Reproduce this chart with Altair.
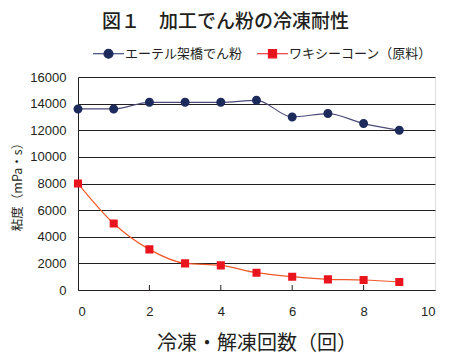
import altair as alt
import pandas as pd

cycles = [0, 1, 2, 3, 4, 5, 6, 7, 8, 9]
ether = [13600, 13600, 14100, 14100, 14100, 14250, 13000, 13250, 12500, 12000]
waxy = [8000, 5000, 3050, 2000, 1850, 1300, 1000, 800, 750, 600]
series_names = ["エーテル架橋でん粉", "ワキシーコーン（原料）"]
line_colors = ["#4b4a78", "#f05a2a"]
marker_colors = ["#1c2a5c", "#e8141e"]
x_ticks = [0, 2, 4, 6, 8, 10]
inner_ticks = [2, 4, 6, 8]
y_ticks = [0, 2000, 4000, 6000, 8000, 10000, 12000, 14000, 16000]

# marker paths: a horizontal segment (only visible when stroked, i.e. in legend) + filled marker
circle_path = "M-1,0H1M-0.29,0A0.29,0.29 0 1,0 0.29,0A0.29,0.29 0 1,0 -0.29,0Z"
square_path = "M-1,0H1M-0.26,-0.26H0.26V0.26H-0.26Z"
marker_shapes = [circle_path, square_path]

df = pd.DataFrame({
    "x": cycles + cycles,
    "y": ether + waxy,
    "series": [series_names[0]] * len(cycles) + [series_names[1]] * len(cycles),
})
ticks_df = pd.DataFrame({"x": inner_ticks})

FONT_CJK = "Noto Sans CJK JP"
FONT_NUM = "Liberation Sans"
W, H = 357, 213

xscale = alt.Scale(domain=[0, 10], nice=False)
yscale = alt.Scale(domain=[0, 16000], nice=False)

xaxis = alt.Axis(
    values=x_ticks, grid=False, tickSize=0, labelPadding=15, format="d",
    labelFont=FONT_NUM, labelFontSize=13, labelColor="#231f20",
    domainColor="#231f20", title="冷凍・解凍回数（回）", titleFont=FONT_CJK,
    titleFontSize=20, titleFontWeight="normal", titleColor="#231f20", titlePadding=15)
yaxis = alt.Axis(
    values=y_ticks, grid=True, gridColor="#231f20", gridOpacity=1, gridWidth=1,
    tickSize=0, labelPadding=12, format="d", labelFont=FONT_NUM, labelFontSize=13,
    labelColor="#231f20", domainColor="#231f20", title="粘度（mPa・s）",
    titleFont=FONT_CJK, titleFontSize=12.5, titleFontWeight="normal",
    titleColor="#231f20", titlePadding=5)

xenc = alt.X("x:Q", scale=xscale, axis=xaxis)
yenc = alt.Y("y:Q", scale=yscale, axis=yaxis)

line_layers = [
    alt.Chart(df).transform_filter(alt.datum.series == name).mark_line(
        interpolate="monotone", strokeWidth=1.2, color=col).encode(x=xenc, y=yenc)
    for name, col in zip(series_names, line_colors)
]

legend = alt.Legend(
    title=None, orient="none", direction="horizontal", legendX=14, legendY=-40,
    labelFont=FONT_CJK, labelFontSize=13, labelColor="#231f20", labelOffset=0,
    columnPadding=11, symbolSize=961, symbolStrokeWidth=1.2, symbolOpacity=1,
)

points = alt.Chart(df).mark_point(filled=True, size=961, opacity=1, strokeWidth=0).encode(
    x=xenc, y=yenc,
    fill=alt.Fill("series:N", scale=alt.Scale(domain=series_names, range=marker_colors), legend=legend),
    stroke=alt.Stroke("series:N", scale=alt.Scale(domain=series_names, range=marker_colors), legend=legend),
    shape=alt.Shape("series:N", scale=alt.Scale(domain=series_names, range=marker_shapes), legend=legend),
)

tick_rules = alt.Chart(ticks_df).mark_rule(color="#231f20", strokeWidth=1).encode(
    x=xenc,
    y=alt.value(H), y2=alt.value(H - 5),
)

chart = alt.layer(tick_rules, *line_layers, points).properties(
    width=W, height=H,
    title=alt.TitleParams(
        "図１　加工でん粉の冷凍耐性", font=FONT_CJK, fontSize=19, fontWeight=500,
        color="#231f20", anchor="middle", dx=-31, offset=5),
    autosize=alt.AutoSizeParams(type="none"),
    padding={"left": 70, "top": 69, "right": 14, "bottom": 70},
).configure_view(stroke="#231f20", strokeWidth=1).configure(background="white")

chart.save("out.html", embed_options={"renderer": "svg", "actions": False})
